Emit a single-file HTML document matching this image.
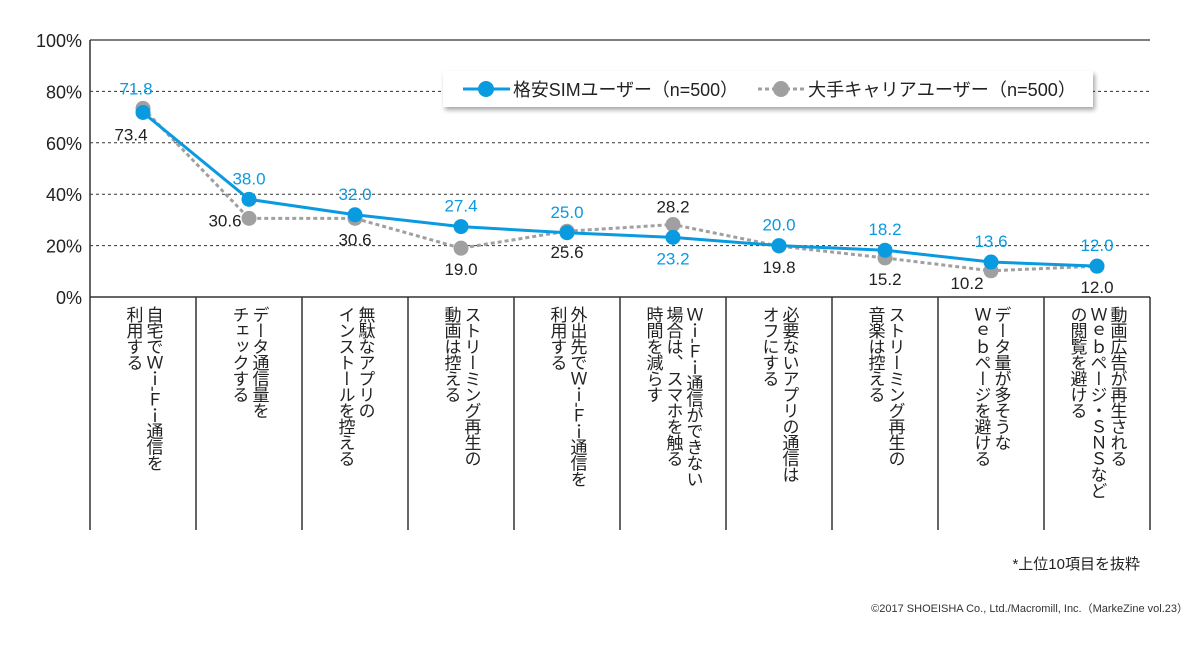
<!DOCTYPE html>
<html><head><meta charset="utf-8">
<style>
body{margin:0;background:#fff;width:1200px;height:644px;overflow:hidden;font-family:"Liberation Sans","Noto Sans CJK JP",sans-serif;}
svg text{font-family:"Liberation Sans","Noto Sans CJK JP",sans-serif;}
</style></head><body>
<svg id="chart" width="1200" height="644" xmlns="http://www.w3.org/2000/svg">
<defs><filter id="sh" x="-5%" y="-30%" width="110%" height="180%"><feDropShadow dx="2" dy="3" stdDeviation="2.5" flood-color="#000" flood-opacity="0.35"/></filter></defs>
<g id="grid"></g><g id="cats"></g><g id="series"></g>
<g>
<rect x="443" y="71" width="650" height="36" fill="#fff" filter="url(#sh)"/>
<line x1="463" y1="89" x2="510" y2="89" stroke="#0a9ae0" stroke-width="3"/>
<circle cx="486" cy="89" r="8" fill="#0a9ae0"/>
<text x="513" y="96" font-size="18" fill="#222" textLength="225" lengthAdjust="spacingAndGlyphs">格安SIMユーザー（n=500）</text>
<line x1="758" y1="89" x2="805" y2="89" stroke="#a0a0a0" stroke-width="3" stroke-dasharray="4,3"/>
<circle cx="781" cy="89" r="8" fill="#a0a0a0"/>
<text x="808" y="96" font-size="18" fill="#222" textLength="268" lengthAdjust="spacingAndGlyphs">大手キャリアユーザー（n=500）</text>
</g>
<text x="1140" y="569" font-size="15" text-anchor="end" fill="#222">*上位10項目を抜粋</text>
<text x="1188" y="612" font-size="11" text-anchor="end" fill="#333">©2017 SHOEISHA Co., Ltd./Macromill, Inc.（MarkeZine vol.23）</text>
</svg>
<script>
const categories=[["自宅でＷｉ‐Ｆｉ通信を","利用する"],["データ通信量を","チェックする"],["無駄なアプリの","インストールを控える"],["ストリーミング再生の","動画は控える"],["外出先でＷｉ‐Ｆｉ通信を","利用する"],["Ｗｉ‐Ｆｉ通信ができない","場合は、スマホを触る","時間を減らす"],["必要ないアプリの通信は","オフにする"],["ストリーミング再生の","音楽は控える"],["データ量が多そうな","Ｗｅｂページを避ける"],["動画広告が再生される","Ｗｅｂページ・ＳＮＳなど","の閲覧を避ける"]];
const simValues=[71.8,38.0,32.0,27.4,25.0,23.2,20.0,18.2,13.6,12.0];
const carrierValues=[73.4,30.6,30.6,19.0,25.6,28.2,19.8,15.2,10.2,12.0];
const yTicks=[0,20,40,60,80,100];
const simBelow=[5];
const carrierAbove=[5];
const carrierLeft=[1,8];
const NS="http://www.w3.org/2000/svg";
const L=90,R=1150,T=40,B=297,CB=530;
const cw=(R-L)/categories.length;
const x=i=>L+cw*(i+0.5);
const y=v=>B-(v/100)*(B-T);
function mk(tag,attrs,parent,txt){const e=document.createElementNS(NS,tag);for(const k in attrs)e.setAttribute(k,attrs[k]);if(txt!==undefined)e.textContent=txt;parent.appendChild(e);return e;}
const grid=document.getElementById('grid');
yTicks.forEach(t=>{
  const g=mk('g',{},grid);
  
  
  if(t>0&&t<100) mk('line',{x1:L,x2:R,y1:y(t),y2:y(t),stroke:'#333','stroke-width':1,'stroke-dasharray':'3,3'},g);
  if(t===100) mk('line',{x1:L,x2:R,y1:y(t),y2:y(t),stroke:'#333','stroke-width':1.2},g);
  mk('text',{x:L-8,y:y(t)+7,'font-size':18,'text-anchor':'end',fill:'#222'},g,t+'%');
});
const ax=mk('g',{},grid);


mk('line',{x1:L,x2:L,y1:T,y2:CB,stroke:'#333','stroke-width':1.5},ax);
mk('line',{x1:L,x2:R,y1:B,y2:B,stroke:'#333','stroke-width':1.5},ax);
const cats=document.getElementById('cats');
categories.forEach((lines,i)=>{
  const g=mk('g',{},cats);
  
  
  mk('line',{x1:L+cw*(i+1),x2:L+cw*(i+1),y1:B,y2:CB,stroke:'#333','stroke-width':1.5},g);
  const n=lines.length, lh=20;
  lines.forEach((s,j)=>{
    const cx=x(i)+((n-1)/2-j)*lh;
    mk('text',{x:cx,y:306,'font-size':17,fill:'#222','writing-mode':'vertical-rl','text-orientation':'upright','letter-spacing':'-1'},g,s);
  });
});
const ser=document.getElementById('series');
function series(vals,color,dash,name){
  const g=mk('g',{},ser);
  
  
  mk('polyline',{points:vals.map((v,i)=>x(i)+','+y(v)).join(' '),fill:'none',stroke:color,'stroke-width':3,'stroke-dasharray':dash},g);
  vals.forEach((v,i)=>{
    const c=mk('circle',{cx:x(i),cy:y(v),r:7.5,fill:color},g);
    
    
  });
  return g;
}
const gc=series(carrierValues,'#a0a0a0','4,3','carrier-series');
const gs=series(simValues,'#0a9ae0','none','sim-series');
simValues.forEach((v,i)=>{
  const below=simBelow.includes(i);
  let yy=below?y(v)+27:y(v)-15;
  if(i===0) yy=y(v)-18;
  const t=mk('text',{x:x(i)-(i===0?7:0),y:yy,'font-size':17,'text-anchor':'middle',fill:'#0a9ae0'},gs,v.toFixed(1));
  
  
});
carrierValues.forEach((v,i)=>{
  const above=carrierAbove.includes(i);
  let yy=above?y(v)-12:y(v)+27;
  let xx=x(i);
  if(carrierLeft.includes(i)){xx=x(i)-24;yy=y(v)+(i===1?8:18);}
  if(i===0){yy=y(v)+32;xx=x(i)-12;}
  const t=mk('text',{x:xx,y:yy,'font-size':17,'text-anchor':'middle',fill:'#222'},gc,v.toFixed(1));
  
  
});
</script>
</body></html>
